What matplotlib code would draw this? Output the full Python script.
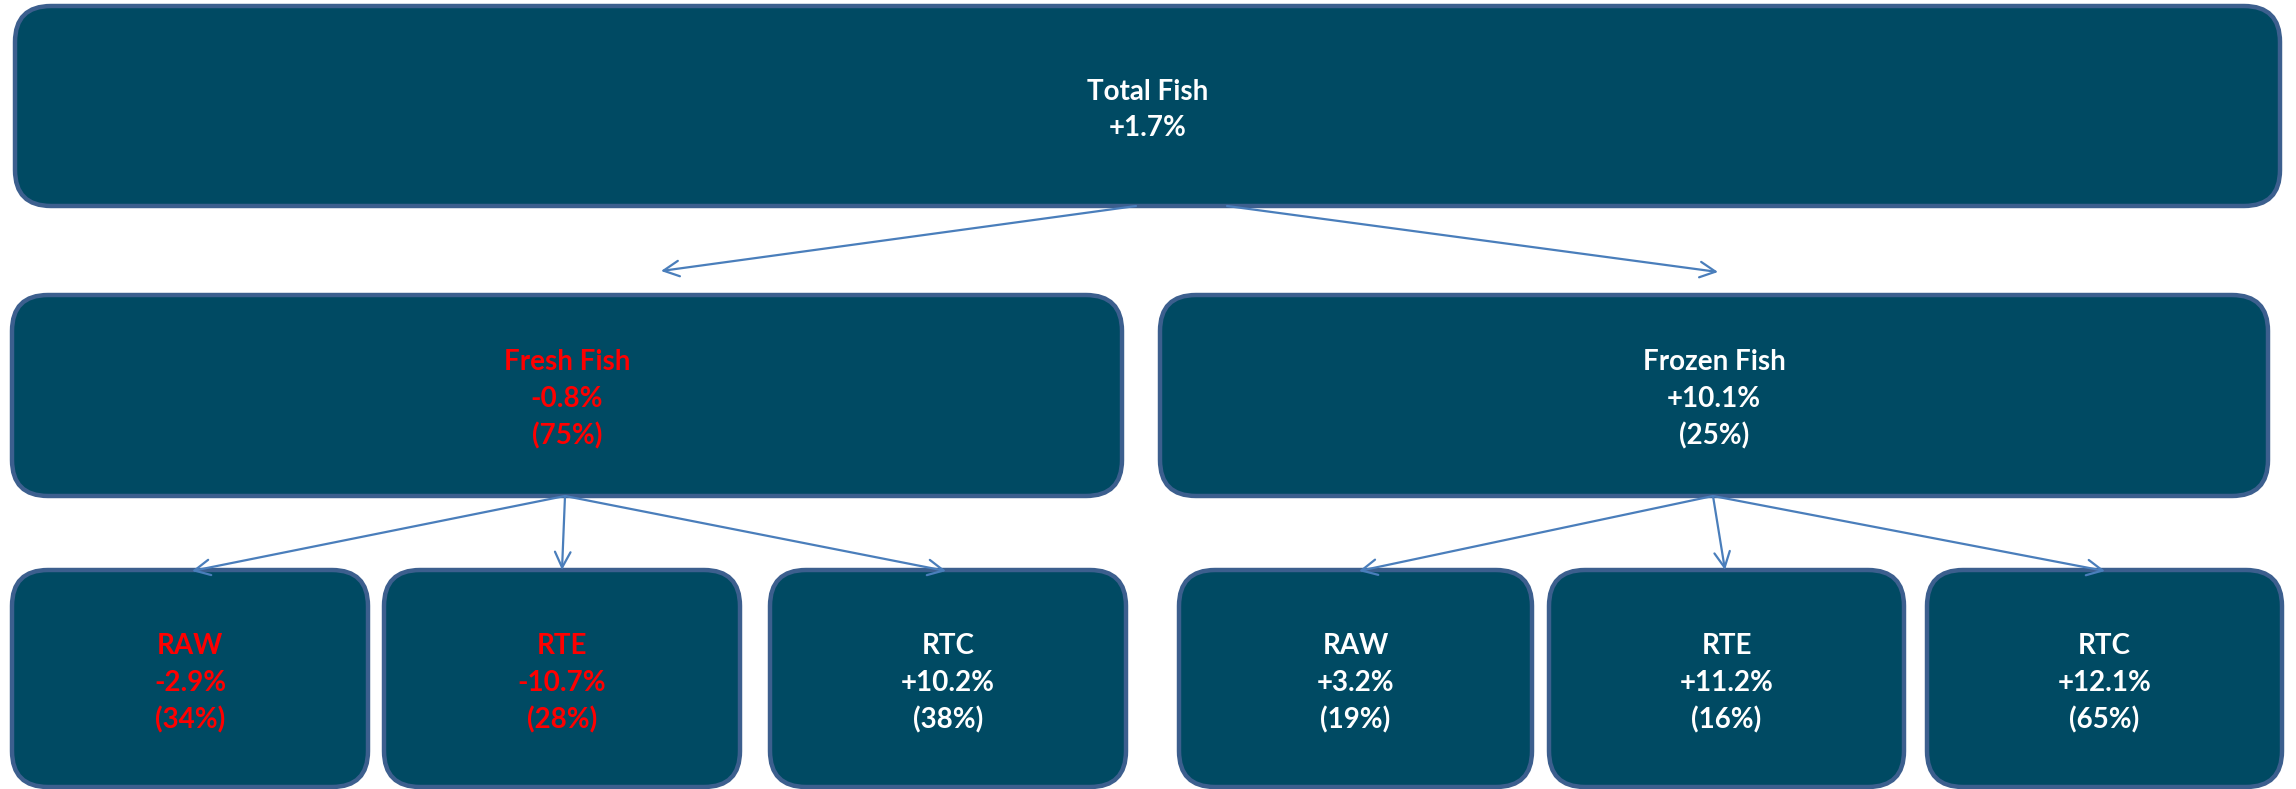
import matplotlib
matplotlib.use("Agg")
import matplotlib.pyplot as plt
from matplotlib.patches import FancyBboxPatch

# node data
names = ["Total Fish", "Fresh Fish", "Frozen Fish",
         "RAW", "RTE", "RTC", "RAW", "RTE", "RTC"]
growth = [1.7, -0.8, 10.1, -2.9, -10.7, 10.2, 3.2, 11.2, 12.1]
share = [None, 75, 25, 34, 28, 38, 19, 16, 65]
parent = [None, 0, 0, 1, 1, 1, 2, 2, 2]

# layout in pixels (x0, y0, x1, y1)
boxes = [(15, 6, 2280, 206),
         (12, 295, 1122, 496), (1160, 295, 2268, 496),
         (12, 570, 368, 787), (384, 570, 740, 787), (770, 570, 1126, 787),
         (1179, 570, 1532, 787), (1549, 570, 1904, 787), (1927, 570, 2282, 787)]
arrow_starts = {0: [(1136, 206), (1227, 206)],
                1: [(565, 496)] * 3,
                2: [(1713, 496)] * 3}
arrow_ends = [None, (661, 271), (1718, 272),
              (192, 571), (562, 570), (946, 571),
              (1359, 571), (1725, 570), (2105, 571)]

FILL = "#004a63"
EDGE = "#3c5f8e"
ARROW = "#4a7ebb"

W, H = 2296, 789
fig = plt.figure(figsize=(W / 100, H / 100), dpi=100)
ax = fig.add_axes([0, 0, 1, 1])
ax.set_xlim(0, W)
ax.set_ylim(H, 0)
ax.axis("off")

for i, (x0, y0, x1, y1) in enumerate(boxes):
    ax.add_patch(FancyBboxPatch((x0, y0), x1 - x0, y1 - y0,
                                boxstyle="round,pad=0,rounding_size=36",
                                fc=FILL, ec=EDGE, lw=3.2, zorder=2))
    txt = names[i] + "\n" + ("%+.1f%%" % growth[i])
    if share[i] is not None:
        txt += "\n(%d%%)" % share[i]
    col = "#ff0000" if growth[i] < 0 else "white"
    ax.text((x0 + x1) / 2, (y0 + y1) / 2 + (4 if i == 0 else 4 if i < 3 else 5), txt,
            ha="center", va="center", color=col, fontsize=20,
            fontweight="bold", family="Lato", linespacing=1.5, zorder=3)

# arrows from parents to children
count = {0: 0, 1: 0, 2: 0}
for i in range(1, len(names)):
    p = parent[i]
    start = arrow_starts[p][count[p]]
    count[p] += 1
    ax.annotate("", xy=arrow_ends[i], xytext=start,
                arrowprops=dict(arrowstyle="->", color=ARROW, lw=1.6,
                                mutation_scale=28, shrinkA=0, shrinkB=0),
                zorder=4)

fig.savefig("out.png", dpi=100)
